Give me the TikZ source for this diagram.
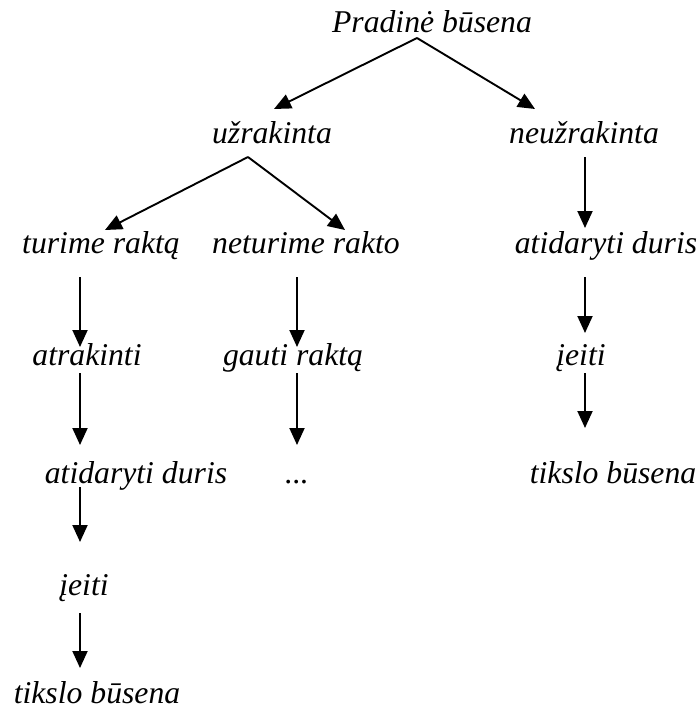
\documentclass[tikz,border=0pt]{standalone}
\usepackage{fontspec}
\setmainfont{Liberation Serif}
\usetikzlibrary{arrows.meta}
\tikzset{
  lbl/.style={anchor=base,inner sep=0pt,font=\fontsize{31.7}{38}\selectfont\itshape},
  arr/.style={line width=1.9pt,-{Triangle[length=17pt,width=15pt]}}
}
\begin{document}
\begin{tikzpicture}[x=1pt,y=-1pt]
\useasboundingbox (0,0) rectangle (699,709);
\node[lbl] (p) at (432,33) {Pradinė būsena};
\node[lbl] (u) at (272,143) {užrakinta};
\node[lbl] (nu) at (584,143) {neužrakinta};
\node[lbl] (tr) at (101,253) {turime raktą};
\node[lbl] (ntr) at (306,253) {neturime rakto};
\node[lbl] (ad2) at (606,253) {atidaryti duris};
\node[lbl] (atr) at (87,365) {atrakinti};
\node[lbl] (gr) at (293,365) {gauti raktą};
\node[lbl] (ie2) at (581,365) {įeiti};
\node[lbl] (ad1) at (136,483) {atidaryti duris};
\node[lbl] (dots) at (297,483) {...};
\node[lbl] (tb2) at (613,483) {tikslo būsena};
\node[lbl] (ie1) at (84,595) {įeiti};
\node[lbl] (tb1) at (97,703) {tikslo būsena};
% arrows
\draw[arr] ([xshift=-15pt,yshift=-5pt]p.base) -- ([xshift=2pt,yshift=34pt]u.base);
\draw[arr] ([xshift=-15pt,yshift=-5pt]p.base) -- ([xshift=-49pt,yshift=34pt]nu.base);
\draw[arr] ([xshift=-24pt,yshift=-14pt]u.base) -- ([xshift=4pt,yshift=23pt]tr.base);
\draw[arr] ([xshift=-24pt,yshift=-14pt]u.base) -- ([xshift=39pt,yshift=23pt]ntr.base);
\draw[arr] ([xshift=1pt,yshift=-14pt]nu.base) -- ([xshift=-21pt,yshift=25pt]ad2.base);
\draw[arr] ([xshift=-21pt,yshift=-24pt]tr.base) -- ([xshift=-7pt,yshift=18pt]atr.base);
\draw[arr] ([xshift=-9pt,yshift=-24pt]ntr.base) -- ([xshift=4pt,yshift=18pt]gr.base);
\draw[arr] ([xshift=-21pt,yshift=-24pt]ad2.base) -- ([xshift=4pt,yshift=32pt]ie2.base);
\draw[arr] ([xshift=-7pt,yshift=-8pt]atr.base) -- ([xshift=-56pt,yshift=38pt]ad1.base);
\draw[arr] ([xshift=4pt,yshift=-8pt]gr.base) -- ([yshift=38pt]dots.base);
\draw[arr] ([xshift=4pt,yshift=-8pt]ie2.base) -- ([xshift=-28pt,yshift=55pt]tb2.base);
\draw[arr] ([xshift=-56pt,yshift=-4pt]ad1.base) -- ([xshift=-4pt,yshift=53pt]ie1.base);
\draw[arr] ([xshift=-4pt,yshift=-18pt]ie1.base) -- ([xshift=-17pt,yshift=35pt]tb1.base);
\end{tikzpicture}
\end{document}
